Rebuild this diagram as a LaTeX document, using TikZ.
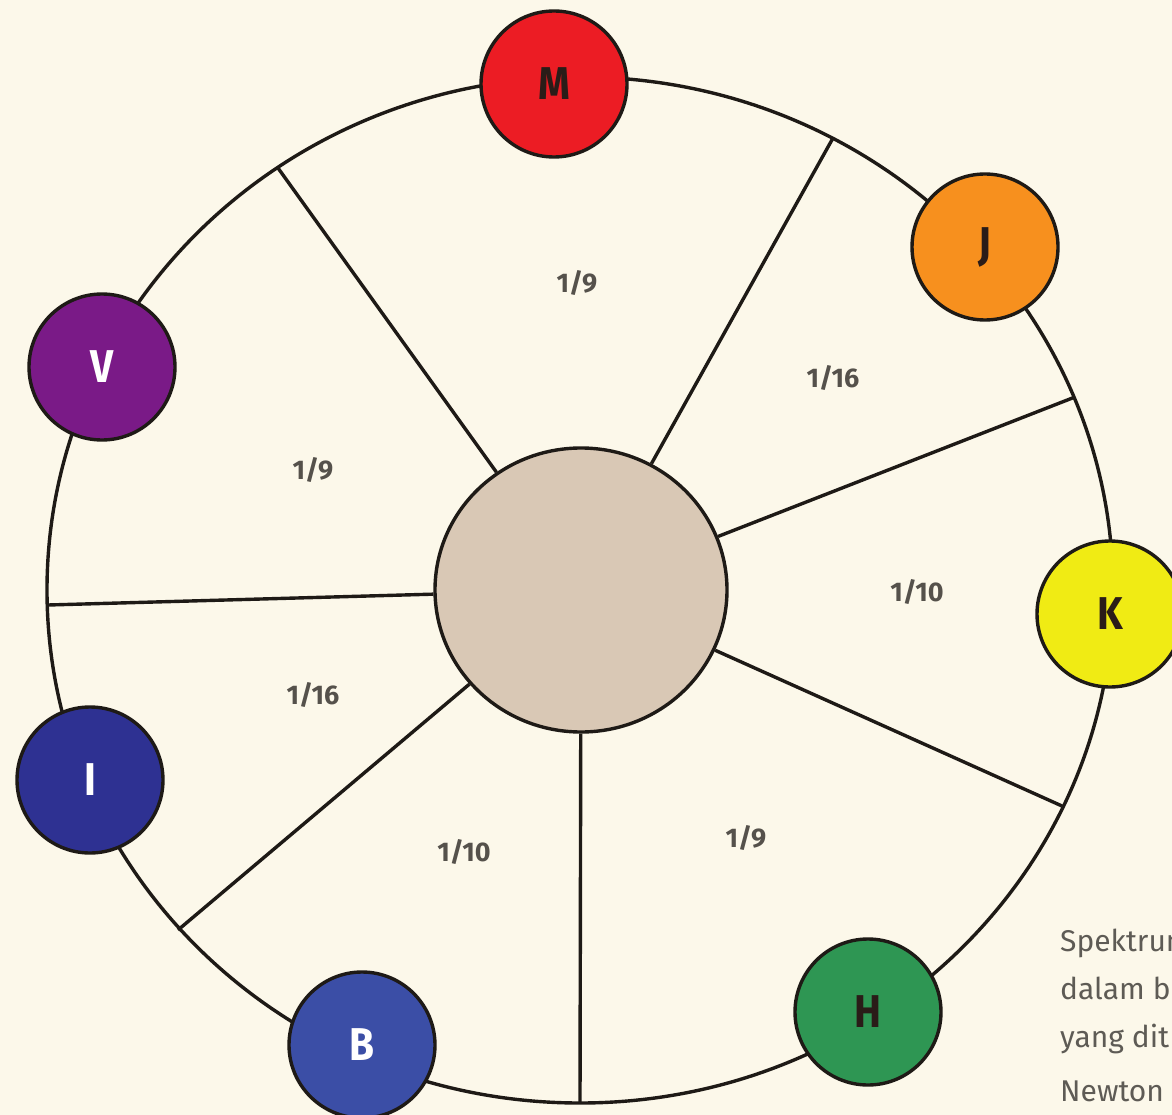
\documentclass[tikz,border=0pt]{standalone}
\usepackage{fontspec}
\setmainfont{Fira Sans}
\usetikzlibrary{shapes.geometric}
\definecolor{bg}{HTML}{FCF8EA}
\definecolor{hubfill}{HTML}{D9C8B5}
\definecolor{cM}{HTML}{EC1C24}
\definecolor{cJ}{HTML}{F7901E}
\definecolor{cK}{HTML}{F0EB14}
\definecolor{cH}{HTML}{2E9653}
\definecolor{cB}{HTML}{3B4EA6}
\definecolor{cI}{HTML}{2E3192}
\definecolor{cV}{HTML}{7A1A87}
\definecolor{ink}{HTML}{1E1A16}
\definecolor{lbl}{HTML}{55514B}
\definecolor{cap}{HTML}{5E5B55}
\definecolor{darkletter}{HTML}{2A1C18}
\begin{document}
\begin{tikzpicture}[x=1pt,y=-1pt,
  wire/.style={draw=ink,line width=3.4pt},
  hue/.style={circle,draw=ink,line width=3.4pt,minimum size=146pt,inner sep=0pt,
    font=\fontsize{46}{50}\selectfont\bfseries},
  frac/.style={text=lbl,font=\fontsize{27}{31}\selectfont\bfseries},
  capline/.style={text=cap,font=\fontsize{30}{34}\selectfont,anchor=base west,inner sep=0pt}]
\fill[bg] (0,0) rectangle (1172,1115);
\clip (0,0) rectangle (1172,1115);
\useasboundingbox (0,0) rectangle (1172,1115);
% outer ring
\draw[wire] (580,590) ellipse [x radius=533pt, y radius=513pt];
% hub
\node[ellipse,draw=ink,line width=3.4pt,fill=hubfill,minimum width=292pt,minimum height=284pt,inner sep=0pt] (hub) at (581,590) {};
% spoke ends
\coordinate (s1) at (278,168);
\coordinate (s2) at (833,138);
\coordinate (s3) at (1075,397);
\coordinate (s4) at (1062,806);
\coordinate (s5) at (580,1103);
\coordinate (s6) at (178,930);
\coordinate (s7) at (48,605);
\foreach \s in {s1,s2,s3,s4,s5,s6,s7} \draw[wire] (hub) -- (\s);
% fractions
\node[frac] (f1) at (577,283) {1/9};
\node[frac] (f2) at (833,378) {1/16};
\node[frac] (f3) at (917,592) {1/10};
\node[frac] (f4) at (746,838) {1/9};
\node[frac] (f5) at (464,852) {1/10};
\node[frac] (f6) at (313,695) {1/16};
\node[frac] (f7) at (313,470) {1/9};
% colour circles
\node[hue,fill=cM,text=darkletter] (M) at (554,84) {\scalebox{0.88}[1]{M}};
\node[hue,fill=cJ,text=darkletter] (J) at (985,247) {\scalebox{0.88}[1]{J}};
\node[hue,fill=cK,text=darkletter] (K) at (1110,614) {\scalebox{0.88}[1]{K}};
\node[hue,fill=cH,text=darkletter] (H) at (868,1012) {\scalebox{0.88}[1]{H}};
\node[hue,fill=cB,text=white] (B) at (362,1045) {\scalebox{0.88}[1]{B}};
\node[hue,fill=cI,text=white] (I) at (90,780) {\scalebox{0.88}[1]{I}};
\node[hue,fill=cV,text=white] (V) at (102,367) {\scalebox{0.88}[1]{V}};
% caption (cut by the page edge, as in the reference)
\node[capline] (c1) at (1060,951) {Spektrum};
\node[capline] (c2) at (1060,999) {dalam b};
\node[capline] (c3) at (1060,1047) {yang dit};
\node[capline] (c4) at (1060,1101) {Newton};
\end{tikzpicture}
\end{document}
